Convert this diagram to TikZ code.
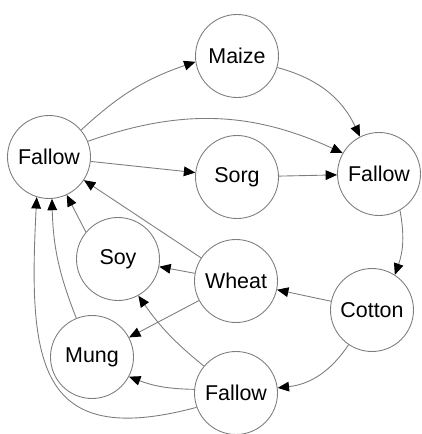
\documentclass[tikz,border=0pt]{standalone}
\usepackage{fontspec}
\setmainfont{Liberation Sans}
\usetikzlibrary{arrows.meta}
\definecolor{edgegray}{RGB}{125,125,125}

\begin{document}
\begin{tikzpicture}[
        crop/.style={circle, draw=edgegray, line width=0.5pt, minimum size=1.66cm,
                     inner sep=0pt, font=\fontsize{12.2}{14}\selectfont},
        link/.style={draw=edgegray, line width=0.5pt,
                     -{Triangle[color=black, length=6.5pt, width=5.5pt]}}
    ]
        % Cadre
        \useasboundingbox (0,0) rectangle (8.42,8.68);

        % --- Cultures ---
        \node[crop] (fallowA) at (0.98,5.54) {Fallow};
        \node[crop] (maize)   at (4.74,7.56) {Maize};
        \node[crop] (sorg)    at (4.74,5.14) {Sorg};
        \node[crop] (fallowB) at (7.58,5.20) {Fallow};
        \node[crop] (soy)     at (2.36,3.50) {Soy};
        \node[crop] (wheat)   at (4.72,3.06) {Wheat};
        \node[crop] (cotton)  at (7.44,2.48) {Cotton};
        \node[crop] (mung)    at (1.84,1.54) {Mung};
        \node[crop] (fallowC) at (4.72,0.82) {Fallow};

        % --- Rotations du haut ---
        \draw[link] (fallowA.40) to[bend left=12] (maize.188);
        \draw[link] (maize.-16) to[bend left=25] (fallowB.117);
        \draw[link] (fallowA.22) to[bend left=22] (fallowB.150);
        \draw[link] (fallowA) -- (sorg);
        \draw[link] (sorg) -- (fallowB);
        \draw[link] (fallowB.-60) to[bend left=15] (cotton.57);

        % --- Rotations du bas ---
        \draw[link] (cotton) -- (wheat);
        \draw[link] (wheat) -- (soy);
        \draw[link] (wheat) -- (fallowA);
        \draw[link] (wheat) -- (mung);
        \draw[link] (cotton.-124) to[bend left=25] (fallowC.7);
        \draw[link] (fallowC.140) to[bend left=8] (soy.-61);
        \draw[link] (fallowC.175) to[bend left=10] (mung.-28);

        % --- Retours vers la jachere ---
        \draw[link] (fallowC.200) to[out=195, in=-93, looseness=1.6] (fallowA.-107);
        \draw[link] (mung.112) to[bend left=10] (fallowA.-86);
        \draw[link] (soy.140) -- (fallowA.-65);
    \end{tikzpicture}
\end{document}
